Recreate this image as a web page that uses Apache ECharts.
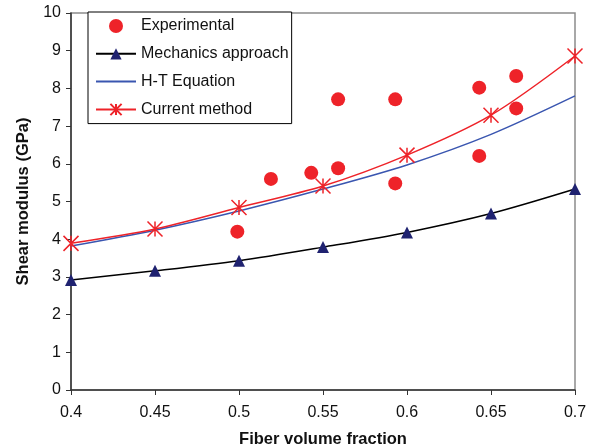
<!DOCTYPE html>
<html>
<head>
<meta charset="UTF-8">
<title>Shear modulus</title>
<script src="https://cdn.jsdelivr.net/npm/echarts@6/dist/echarts.min.js"></script>
<style>
  body { margin: 0; background: #fff; }
  #chart { width: 595px; height: 448px; }
</style>
</head>
<body>
<div id="chart"></div>
<script>
// fiber volume fractions for the model curves
var vf = [0.4, 0.45, 0.5, 0.55, 0.6, 0.65, 0.7];
var mechanics = [2.92, 3.16, 3.43, 3.79, 4.18, 4.68, 5.33];
var htEquation = [3.82, 4.24, 4.75, 5.33, 5.97, 6.78, 7.8];
var current = [3.89, 4.27, 4.84, 5.41, 6.23, 7.29, 8.86];
// experimental points [vf, modulus]
var expX = [0.499, 0.519, 0.543, 0.559, 0.559, 0.593, 0.593, 0.643, 0.643, 0.665, 0.665];
var expY = [4.2, 5.6, 5.76, 5.88, 7.71, 7.71, 5.48, 8.02, 6.21, 8.33, 7.47];

function pairs(xs, ys) {
  return xs.map(function (x, i) { return [x, ys[i]]; });
}

var star = 'path://M0,0L10,10M10,0L0,10M5,0L5,10';
var font = 'Liberation Sans, Arial, sans-serif';
var clear = 'rgba(0,0,0,0)';

var chart = echarts.init(document.getElementById('chart'));
chart.setOption({
  animation: false,
  textStyle: { fontFamily: font },
  grid: {
    left: 71, right: 20, top: 13, bottom: 58,
    containLabel: false, outerBoundsMode: 'none',
    show: true, borderColor: '#8c8c8c', borderWidth: 1.5
  },
  legend: {
    orient: 'vertical',
    left: 88, top: 12,
    padding: [6, 3, 6, 7],
    itemWidth: 40, itemHeight: 14, itemGap: 11.8,
    backgroundColor: '#fff',
    borderColor: '#000', borderWidth: 1,
    textStyle: { fontSize: 16, color: '#111', fontFamily: font },
    data: [
      'Experimental',
      'Mechanics approach',
      { name: 'H-T Equation', itemStyle: { color: clear, borderColor: clear } },
      'Current method'
    ]
  },
  xAxis: {
    type: 'value',
    min: 0.4, max: 0.7, interval: 0.05,
    name: 'Fiber volume fraction',
    nameLocation: 'middle', nameGap: 41,
    nameTextStyle: { fontSize: 16.5, fontWeight: 'bold', color: '#111' },
    axisLine: { lineStyle: { color: '#333', width: 1.5 } },
    axisTick: { show: true, length: 5, lineStyle: { color: '#333' } },
    axisLabel: { fontSize: 16, color: '#111', margin: 15 },
    splitLine: { show: false }
  },
  yAxis: {
    type: 'value',
    min: 0, max: 10, interval: 1,
    name: 'Shear modulus (GPa)',
    nameLocation: 'middle', nameGap: 37,
    nameTextStyle: { fontSize: 16.5, fontWeight: 'bold', color: '#111' },
    axisLine: { show: true, lineStyle: { color: '#333', width: 1.5 } },
    axisTick: { show: true, length: 5, lineStyle: { color: '#333' } },
    axisLabel: { fontSize: 16, color: '#111', margin: 10 },
    splitLine: { show: false }
  },
  series: [
    {
      name: 'Experimental',
      type: 'scatter',
      data: pairs(expX, expY),
      symbol: 'circle', symbolSize: 14,
      itemStyle: { color: '#ee2329', opacity: 1 },
      z: 5
    },
    {
      name: 'Mechanics approach',
      type: 'line',
      data: pairs(vf, mechanics),
      smooth: 0.3,
      symbol: 'triangle', symbolSize: 12,
      itemStyle: { color: '#1f2270' },
      lineStyle: { color: '#000', width: 1.5 }
    },
    {
      name: 'H-T Equation',
      type: 'line',
      data: pairs(vf, htEquation),
      smooth: 0.3,
      symbol: 'none',
      itemStyle: { color: '#3a56b0' },
      lineStyle: { color: '#3a56b0', width: 1.5 }
    },
    {
      name: 'Current method',
      type: 'line',
      data: pairs(vf, current),
      smooth: 0.3,
      symbol: star, symbolSize: 15,
      itemStyle: { color: 'none', borderColor: '#ee2329', borderWidth: 1.5 },
      lineStyle: { color: '#ee2329', width: 1.5 }
    }
  ]
});
</script>
</body>
</html>
